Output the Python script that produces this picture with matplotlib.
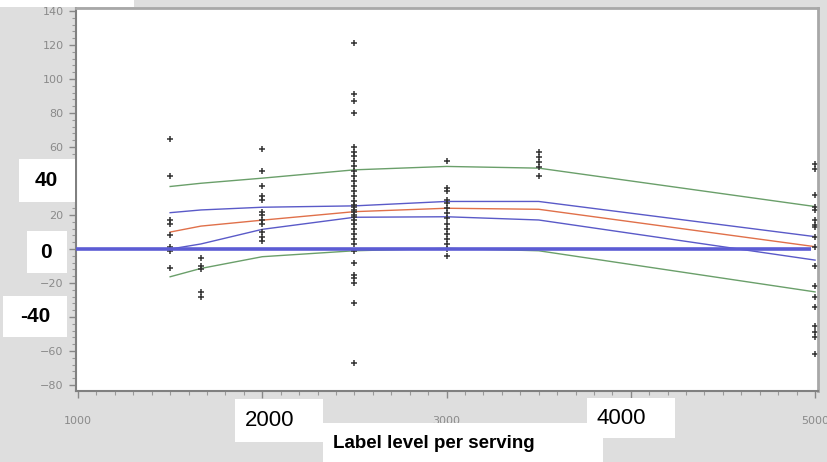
import matplotlib.pyplot as plt
from matplotlib.patches import Rectangle
from matplotlib.ticker import MultipleLocator

# ===================== data =====================
fit_x = [1500, 1667, 2000, 2500, 3000, 3500, 5000]
fit_y = [10.0, 13.5, 17.0, 22.0, 24.0, 23.4, 1.4]
mean_upper = [21.4, 23.0, 24.6, 25.4, 28.0, 28.0, 7.3]
mean_lower = [0.0, 3.0, 11.6, 18.7, 19.0, 17.1, -6.5]
pred_upper = [36.8, 38.7, 41.7, 46.6, 48.6, 47.6, 25.0]
pred_lower = [-16.3, -11.4, -4.5, -1.0, 0.4, -1.0, -25.2]

obs_1500 = [65, 43, 17, 15, 8, 1, -1, -11]
obs_1667 = [-5, -10, -12, -25, -28]
obs_2000 = [59, 46, 37, 31, 29, 22, 20, 17, 15, 10, 7, 5]
obs_2500 = [121, 91, 87, 80, 60, 57, 55, 52, 49, 46, 43, 40, 37, 34, 31, 28,
            26, 25, 23, 22, 20, 19, 17, 15, 12, 9, 6, 3, -1, -8, -15, -17,
            -20, -32, -67]
obs_3000 = [52, 36, 34, 29, 27, 24, 21, 18, 15, 12, 9, 6, 3, 0, -4]
obs_3500 = [57, 54, 51, 48, 43]
obs_5000 = [50, 47, 32, 25, 23, 17, 14, 13, 7, 1, -10, -22, -28, -34, -45,
            -49, -52, -62]

ref_y = 0
ref_x_end = 4978

# the original tick labels hidden under the pasted white boxes are left blank
y_ticks = [-80, -60, -40, -20, 0, 20, 40, 60, 80, 100, 120, 140]
y_tick_labels = ["\u221280", "\u221260", "", "\u221220", "", "20", "", "60", "80", "100", "120", "140"]
x_ticks = [1000, 2000, 3000, 4000, 5000]
x_tick_labels = ["1000", "", "3000", "", "5000"]

# ===================== figure =====================
W, H = 828, 462
fig = plt.figure(figsize=(W / 100, H / 100), dpi=100, facecolor="#dedede")
ax = fig.add_axes([76 / W, 1 - 391 / H, (818 - 76) / W, (391 - 8) / H])
ax.set_facecolor("white")

ax.plot(fit_x, pred_upper, color="#6a9f6a", lw=1.0)
ax.plot(fit_x, pred_lower, color="#6a9f6a", lw=1.0)
ax.plot(fit_x, mean_upper, color="#5a5ac8", lw=1.0)
ax.plot(fit_x, mean_lower, color="#5a5ac8", lw=1.0)
ax.plot(fit_x, fit_y, color="#e0704a", lw=1.0)

groups = [(1500, obs_1500), (1667, obs_1667), (2000, obs_2000), (2500, obs_2500),
          (3000, obs_3000), (3500, obs_3500), (5000, obs_5000)]
for gx, gy in groups:
    ax.plot([gx] * len(gy), gy, ls="none", marker="+", ms=5, mew=1.1, color="#333333")

ax.hlines(ref_y, 989, ref_x_end, color="#5c5cd4", lw=2.6, zorder=5)

ax.set_xlim(989, 5016)
ax.set_ylim(-83.5, 141.8)
ax.set_xticks(x_ticks)
ax.set_xticklabels(x_tick_labels)
ax.set_yticks(y_ticks)
ax.set_yticklabels(y_tick_labels)
ax.xaxis.set_minor_locator(MultipleLocator(100))
ax.yaxis.set_minor_locator(MultipleLocator(4))
ax.tick_params(which="major", length=5, width=1, color="#888888",
               labelcolor="#8a8a8a", labelsize=8)
ax.tick_params(which="minor", length=3, width=0.8, color="#999999")
ax.tick_params(axis="x", pad=13)
ax.tick_params(axis="y", pad=4)
for side in ["left", "bottom"]:
    ax.spines[side].set_color("#808080")
    ax.spines[side].set_linewidth(1.5)
for side in ["top", "right"]:
    ax.spines[side].set_color("#a8a8a8")
    ax.spines[side].set_linewidth(2.0)


# ===================== white label boxes pasted on top =====================
def box(x0, y0, x1, y1):
    fig.patches.append(Rectangle((x0 / W, 1 - y1 / H), (x1 - x0) / W, (y1 - y0) / H,
                                 transform=fig.transFigure, facecolor="white",
                                 edgecolor="none", zorder=10))


def label(x, y, s, weight="normal", size=15, ha="center"):
    fig.text(x / W, 1 - y / H, s, ha=ha, va="center", fontsize=size,
             fontweight=weight, family="Liberation Sans", color="black", zorder=11)


box(0, 0, 134, 7)
box(19, 159, 75, 202)
box(27, 231, 67, 273)
box(3, 296, 67, 337)
box(235, 399, 323, 442)
box(323, 423, 603, 462)
box(587, 398, 675, 438)

label(46, 181, "40", weight="bold", size=15)
label(46, 252, "0", weight="bold", size=15)
label(35, 317, "-40", weight="bold", size=15)
label(245, 420, "2000", size=16, ha="left")
label(597, 418, "4000", size=16, ha="left")
label(333, 444, "Label level per serving", weight="bold", size=13.5, ha="left")

fig.savefig("out.png", dpi=100, facecolor=fig.get_facecolor())
